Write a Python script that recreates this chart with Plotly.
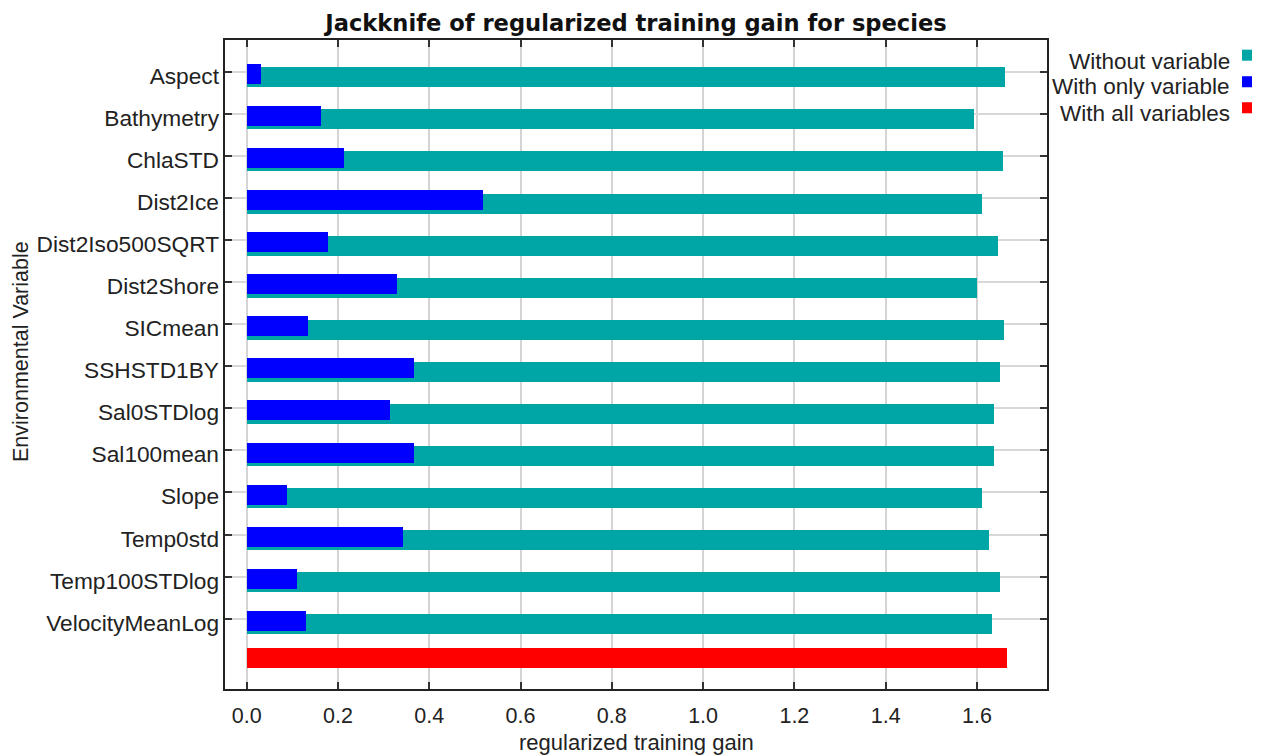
import plotly.graph_objects as go

# Environmental variables (top to bottom) and jackknife gains
variables = [
    "Aspect", "Bathymetry", "ChlaSTD", "Dist2Ice", "Dist2Iso500SQRT",
    "Dist2Shore", "SICmean", "SSHSTD1BY", "Sal0STDlog", "Sal100mean",
    "Slope", "Temp0std", "Temp100STDlog", "VelocityMeanLog",
]
without_variable = [
    1.662, 1.594, 1.658, 1.610, 1.647, 1.600, 1.659,
    1.650, 1.638, 1.638, 1.610, 1.626, 1.650, 1.634,
]
with_only_variable = [
    0.031, 0.163, 0.214, 0.517, 0.179, 0.330, 0.135,
    0.366, 0.315, 0.366, 0.088, 0.342, 0.111, 0.130,
]
with_all_variables = 1.665

x_ticks = [0.0, 0.2, 0.4, 0.6, 0.8, 1.0, 1.2, 1.4, 1.6]

TEAL = "#00a6a6"
BLUE = "#0000ff"
RED = "#ff0000"
TEXT = "#222222"
FONT = "Liberation Sans, Arial, sans-serif"

rows = list(range(len(variables)))
bar_w = 0.475
y_range = [14.67, -0.753]

fig = go.Figure()

# Gain without each variable (drawn first, sits slightly lower)
fig.add_trace(go.Bar(
    orientation="h",
    x=without_variable,
    y=[r + 0.133 for r in rows],
    width=bar_w,
    marker=dict(color=TEAL, line=dict(width=0)),
    name="Without variable",
    showlegend=False,
))
# Gain with only each variable (on top)
fig.add_trace(go.Bar(
    orientation="h",
    x=with_only_variable,
    y=[r + 0.05 for r in rows],
    width=bar_w,
    marker=dict(color=BLUE, line=dict(width=0)),
    name="With only variable",
    showlegend=False,
))
# Gain with all variables
fig.add_trace(go.Bar(
    orientation="h",
    x=[with_all_variables],
    y=[len(variables) - 0.07],
    width=bar_w,
    marker=dict(color=RED, line=dict(width=0)),
    name="With all variables",
    showlegend=False,
))

axis_common = dict(
    ticks="inside",
    ticklen=7,
    tickwidth=2,
    tickcolor="#333333",
    showline=True,
    linecolor="#222222",
    linewidth=2,
    mirror="ticks",
    showgrid=True,
    zeroline=False,
    automargin=False,
)

fig.update_layout(
    width=1263,
    height=755,
    margin=dict(l=225, r=216, t=40, b=66),
    paper_bgcolor="white",
    plot_bgcolor="white",
    barmode="overlay",
    bargap=0,
    font=dict(family=FONT, size=22, color=TEXT),
    title=dict(
        text="<b>Jackknife of regularized training gain for species</b>",
        font=dict(family="DejaVu Sans, sans-serif", size=22.6, color="#111111"),
        x=0.5, xref="paper", xanchor="center",
        y=1 - 23 / 755, yref="container", yanchor="middle",
    ),
    xaxis=dict(
        **axis_common,
        range=[-0.0475, 1.7535],
        tickvals=x_ticks,
        tickformat=".1f",
        gridcolor="#d4d4d4",
        gridwidth=2,
        tickfont=dict(size=21.5),
        ticklabelstandoff=6,
    ),
    # Gridlines and ticks for each variable row
    yaxis=dict(
        **axis_common,
        range=y_range,
        tickvals=rows,
        showticklabels=False,
        gridcolor="#d8d8d8",
        gridwidth=1.5,
    ),
    # Row labels, centred on the bars
    yaxis2=dict(
        overlaying="y",
        side="left",
        anchor="x",
        range=y_range,
        tickvals=[r + 0.095 for r in rows],
        ticktext=variables,
        ticks="",
        showgrid=False,
        showline=False,
        zeroline=False,
        automargin=False,
        tickfont=dict(size=22.7),
        ticklabelstandoff=5,
    ),
)

# Invisible trace binding the label axis
fig.add_trace(go.Scatter(
    x=[None], y=[None], yaxis="y2", showlegend=False, hoverinfo="skip",
))

# Axis titles
fig.add_annotation(
    text="regularized training gain", xref="paper", yref="paper",
    x=0.5, y=-0.0817, xanchor="center", yanchor="middle",
    showarrow=False, font=dict(size=22, color=TEXT),
)
fig.add_annotation(
    text="Environmental Variable", xref="paper", yref="paper",
    x=-0.2482, y=0.5208, xanchor="center", yanchor="middle", textangle=-90,
    showarrow=False, font=dict(size=21.5, color=TEXT),
)

# Legend: right-aligned labels with colour swatches to their right
legend_items = [("Without variable", TEAL), ("With only variable", BLUE), ("With all variables", RED)]
text_y = [0.9676, 0.9276, 0.8860]
swatch_y = [0.9766, 0.9357, 0.8956]
for (label, color), ty, sy in zip(legend_items, text_y, swatch_y):
    fig.add_annotation(
        text=label, xref="paper", yref="paper",
        x=1.2250, y=ty, xanchor="right", yanchor="middle",
        showarrow=False, font=dict(size=22.5, color=TEXT),
    )
    fig.add_shape(
        type="rect", xref="paper", yref="paper",
        x0=1.2372, x1=1.2494, y0=sy - 0.0085, y1=sy + 0.0085,
        fillcolor=color, line=dict(width=0),
    )

fig.write_html("out.html")
